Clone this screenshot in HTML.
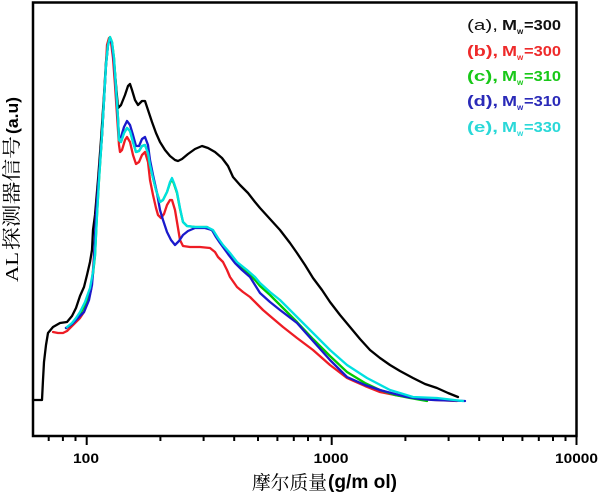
<!DOCTYPE html>
<html>
<head>
<meta charset="utf-8">
<style>
  html, body { margin: 0; padding: 0; background: #ffffff; }
  svg { display: block; }
</style>
</head>
<body>
<svg width="600" height="493" viewBox="0 0 600 493" xmlns="http://www.w3.org/2000/svg">
  <rect x="0" y="0" width="600" height="493" fill="#ffffff"/>

  <!-- series -->
  <g fill="none" stroke-width="2.3" stroke-linejoin="round" stroke-linecap="round">
    <path stroke="#000000" d="M33,400 L42,400 L43,380 L44,362 L46,345 L48,333 L53,327 L60,323 L67,322 L72,316 L76,308 L80,296 L84,287 L87,275 L90,262 L92,250 L93,230 L95,215 L98,180 L101,140 L104,95 L106,62 L108,43 L110,38 L112,45 L114,62 L116,85 L118,108 L121,105 L125,95 L128,86 L130,84 L132,90 L135,100 L138,105 L142,101 L145,101 L148,110 L152,122 L156,133 L160,142 L165,150 L170,156 L175,160 L178,161 L182,159 L188,154 L195,149 L202,146 L208,148 L215,152 L222,158 L228,166 L233,177 L240,185 L248,193 L255,202 L260,208 L270,219 L280,230 L290,243 L297,253 L305,265 L313,278 L322,290 L330,302 L340,315 L350,327 L360,339 L370,350 L380,358 L390,365 L400,371 L413,378 L425,384 L437,388 L448,393 L458,397"/>
    <path stroke="#ee1c24" d="M53,332 L58,333 L63,333 L67,331 L70,328 L75,323 L80,318 L84,312 L88,302 L91,290 L93,270 L95,240 L96,215 L99,175 L102,135 L104,100 L106,65 L107,45 L109,38 L111,42 L113,58 L115,85 L117,115 L119,145 L120,152 L122,150 L125,140 L127,137 L130,142 L133,155 L136,164 L139,162 L142,155 L145,152 L148,162 L150,180 L153,195 L156,208 L158,215 L161,218 L164,214 L167,205 L170,200 L172,200 L175,210 L177,222 L180,240 L183,246 L190,247 L200,247 L210,248 L215,252 L218,257 L223,262 L227,270 L230,277 L237,287 L243,292 L250,297 L257,304 L263,310 L270,316 L283,327 L297,338 L313,350 L330,365 L347,378 L365,386 L380,392 L395,395 L407,397 L420,399 L435,400 L457,401"/>
    <path stroke="#00cc00" d="M66,328 L72,324 L76,319 L80,314 L85,305 L90,292 L93,274 L95,256 L97,215 L99,180 L102,135 L104,100 L106,65 L108,45 L110,37 L112,42 L114,58 L116,88 L118,118 L119,140 L121,142 L124,133 L127,128 L130,131 L133,142 L136,152 L139,151 L142,146 L145,145 L148,153 L150,165 L153,178 L156,190 L158,196 L160,202 L163,200 L167,192 L170,183 L172,179 L174,184 L177,193 L180,209 L183,222 L187,226 L195,227 L207,227 L213,231 L218,239 L223,246 L230,255 L237,264 L247,272 L255,280 L260,286 L270,295 L280,305 L297,322 L313,339 L330,356 L347,372 L365,383 L380,390 L395,395 L410,398 L427,401"/>
    <path stroke="#1a1acc" d="M66,328 L72,324 L78,318 L84,312 L89,300 L92,285 L94,260 L96,215 L99,175 L102,135 L104,100 L106,65 L108,45 L110,38 L112,44 L114,62 L116,90 L118,120 L119,138 L121,137 L124,127 L127,121 L130,125 L133,135 L136,146 L139,146 L142,139 L145,137 L148,145 L150,160 L153,175 L157,193 L160,210 L163,220 L167,232 L171,240 L175,245 L179,241 L183,235 L188,231 L195,228 L205,228 L212,230 L216,237 L220,243 L228,254 L235,263 L242,270 L250,277 L255,285 L260,293 L270,302 L280,310 L297,323 L313,341 L330,360 L347,377 L365,385 L380,390 L395,394 L407,397 L420,399 L433,400 L465,401"/>
    <path stroke="#00e0e0" d="M67,327 L72,323 L76,318 L80,312 L85,302 L90,288 L93,272 L95,255 L97,215 L99,180 L102,135 L104,100 L106,65 L108,45 L110,37 L112,42 L114,58 L116,88 L118,118 L119,140 L121,142 L124,133 L127,128 L130,131 L133,142 L136,152 L139,151 L142,146 L145,145 L148,153 L150,165 L153,178 L156,190 L158,196 L160,202 L163,200 L167,192 L170,182 L172,178 L174,183 L177,192 L180,208 L183,222 L187,226 L195,227 L207,227 L213,230 L218,238 L223,245 L230,253 L237,262 L247,270 L255,277 L260,283 L270,292 L280,300 L297,317 L313,333 L330,350 L347,365 L367,378 L390,390 L413,397 L437,398 L463,401"/>
  </g>

  <!-- frame -->
  <rect x="33" y="2.5" width="543.5" height="433.5" fill="none" stroke="#000" stroke-width="2.5"/>

  <!-- ticks -->
  <g stroke="#000" stroke-width="2">
    <line x1="48.7" y1="436" x2="48.7" y2="441"/>
    <line x1="62.9" y1="436" x2="62.9" y2="441"/>
    <line x1="75.5" y1="436" x2="75.5" y2="441"/>
    <line x1="86.7" y1="436" x2="86.7" y2="445"/>
    <line x1="160.4" y1="436" x2="160.4" y2="441"/>
    <line x1="203.6" y1="436" x2="203.6" y2="441"/>
    <line x1="234.2" y1="436" x2="234.2" y2="441"/>
    <line x1="258.0" y1="436" x2="258.0" y2="441"/>
    <line x1="277.4" y1="436" x2="277.4" y2="441"/>
    <line x1="293.8" y1="436" x2="293.8" y2="441"/>
    <line x1="308.0" y1="436" x2="308.0" y2="441"/>
    <line x1="320.5" y1="436" x2="320.5" y2="441"/>
    <line x1="331.7" y1="436" x2="331.7" y2="445"/>
    <line x1="405.4" y1="436" x2="405.4" y2="441"/>
    <line x1="448.6" y1="436" x2="448.6" y2="441"/>
    <line x1="479.2" y1="436" x2="479.2" y2="441"/>
    <line x1="503.0" y1="436" x2="503.0" y2="441"/>
    <line x1="522.4" y1="436" x2="522.4" y2="441"/>
    <line x1="538.8" y1="436" x2="538.8" y2="441"/>
    <line x1="553.0" y1="436" x2="553.0" y2="441"/>
    <line x1="565.5" y1="436" x2="565.5" y2="441"/>
    <line x1="576.5" y1="436" x2="576.5" y2="445"/>
  </g>

  <!-- tick labels -->
  <g font-family="'Liberation Sans', sans-serif" font-weight="bold" font-size="14" fill="#000" text-anchor="middle">
    <text x="86" y="463" textLength="26" lengthAdjust="spacingAndGlyphs">100</text>
    <text x="331" y="463" textLength="35" lengthAdjust="spacingAndGlyphs">1000</text>
    <text x="576.5" y="463" textLength="43" lengthAdjust="spacingAndGlyphs">10000</text>
  </g>

  <!-- x-axis title -->
  <text x="252" y="489" font-family="'Liberation Serif', 'Noto Serif CJK SC', serif" font-size="19" fill="#000" textLength="75" lengthAdjust="spacingAndGlyphs">摩尔质量</text>
  <text x="328" y="488" font-family="'Liberation Sans', sans-serif" font-weight="bold" font-size="19" fill="#000" textLength="69" lengthAdjust="spacingAndGlyphs">(g/m ol)</text>

  <!-- y-axis title -->
  <g transform="translate(18,282) rotate(-90)" fill="#000">
    <text x="0" y="0" font-family="'Liberation Serif', serif" font-size="18" textLength="30" lengthAdjust="spacingAndGlyphs">AL</text>
    <text x="32" y="0" font-family="'Liberation Serif', 'Noto Serif CJK SC', serif" font-size="19" textLength="114" lengthAdjust="spacingAndGlyphs">探测器信号</text>
    <text x="148" y="0" font-family="'Liberation Sans', sans-serif" font-weight="bold" font-size="17" textLength="37" lengthAdjust="spacingAndGlyphs">(a.u)</text>
  </g>

  <!-- legend -->
  <g font-family="'Liberation Sans', sans-serif" font-size="15">
    <g fill="#111111">
      <text x="467" y="30" textLength="31" lengthAdjust="spacingAndGlyphs">(a),</text>
      <text x="502" y="30" font-weight="bold" textLength="15" lengthAdjust="spacingAndGlyphs">M</text>
      <text x="517" y="34" font-size="8" font-weight="bold">w</text>
      <text x="524" y="30" font-weight="bold" textLength="37" lengthAdjust="spacingAndGlyphs">=300</text>
    </g>
    <g fill="#ee2a2a">
      <text x="467" y="56" font-weight="bold" textLength="31" lengthAdjust="spacingAndGlyphs">(b),</text>
      <text x="502" y="56" font-weight="bold" textLength="15" lengthAdjust="spacingAndGlyphs">M</text>
      <text x="517" y="60" font-size="8" font-weight="bold">w</text>
      <text x="524" y="56" font-weight="bold" textLength="37" lengthAdjust="spacingAndGlyphs">=300</text>
    </g>
    <g fill="#18c818">
      <text x="467" y="81" font-weight="bold" textLength="31" lengthAdjust="spacingAndGlyphs">(c),</text>
      <text x="502" y="81" font-weight="bold" textLength="15" lengthAdjust="spacingAndGlyphs">M</text>
      <text x="517" y="85" font-size="8" font-weight="bold">w</text>
      <text x="524" y="81" font-weight="bold" textLength="37" lengthAdjust="spacingAndGlyphs">=310</text>
    </g>
    <g fill="#2a2ab8">
      <text x="467" y="106" font-weight="bold" textLength="31" lengthAdjust="spacingAndGlyphs">(d),</text>
      <text x="502" y="106" font-weight="bold" textLength="15" lengthAdjust="spacingAndGlyphs">M</text>
      <text x="517" y="110" font-size="8" font-weight="bold">w</text>
      <text x="524" y="106" font-weight="bold" textLength="37" lengthAdjust="spacingAndGlyphs">=310</text>
    </g>
    <g fill="#2ad8d8">
      <text x="467" y="132" font-weight="bold" textLength="31" lengthAdjust="spacingAndGlyphs">(e),</text>
      <text x="502" y="132" font-weight="bold" textLength="15" lengthAdjust="spacingAndGlyphs">M</text>
      <text x="517" y="136" font-size="8" font-weight="bold">w</text>
      <text x="524" y="132" font-weight="bold" textLength="37" lengthAdjust="spacingAndGlyphs">=330</text>
    </g>
  </g>
</svg>
</body>
</html>
